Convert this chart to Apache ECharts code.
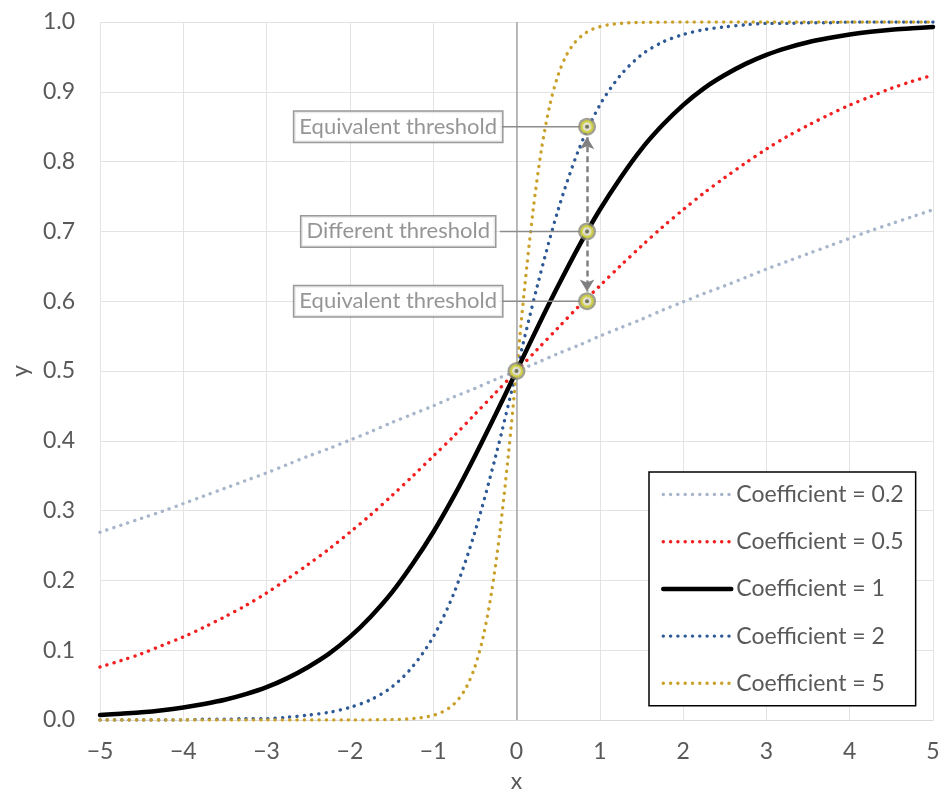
<!DOCTYPE html>
<html><head><meta charset="utf-8">
<script src="https://cdn.jsdelivr.net/npm/echarts@6/dist/echarts.min.js"></script>
<style>html,body{margin:0;padding:0;background:#fff;overflow:hidden}#c{width:944px;height:794px}</style>
</head><body><div id="c"></div>
<script>
const xTicks = [-5,-4,-3,-2,-1,0,1,2,3,4,5];
const xs = [-5,-4.75,-4.5,-4.25,-4,-3.75,-3.5,-3.25,-3,-2.75,-2.5,-2.25,-2,-1.75,-1.5,-1.25,-1,-0.75,-0.5,-0.25,0,0.25,0.5,0.75,1,1.25,1.5,1.75,2,2.25,2.5,2.75,3,3.25,3.5,3.75,4,4.25,4.5,4.75,5];
const yCoef02 = [0.269,0.279,0.289,0.299,0.310,0.321,0.332,0.343,0.354,0.366,0.378,0.389,0.401,0.413,0.426,0.438,0.450,0.463,0.475,0.488,0.500,0.512,0.525,0.537,0.550,0.562,0.574,0.587,0.599,0.611,0.622,0.634,0.646,0.657,0.668,0.679,0.690,0.701,0.711,0.721,0.731];
const yCoef05 = [0.076,0.085,0.095,0.107,0.119,0.133,0.148,0.164,0.182,0.202,0.223,0.245,0.269,0.294,0.321,0.349,0.378,0.407,0.438,0.469,0.500,0.531,0.562,0.593,0.622,0.651,0.679,0.706,0.731,0.755,0.777,0.798,0.818,0.836,0.852,0.867,0.881,0.893,0.905,0.915,0.924];
const yCoef1 = [0.007,0.009,0.011,0.014,0.018,0.023,0.029,0.037,0.047,0.060,0.076,0.095,0.119,0.148,0.182,0.223,0.269,0.321,0.378,0.438,0.500,0.562,0.622,0.679,0.731,0.777,0.818,0.852,0.881,0.905,0.924,0.940,0.953,0.963,0.971,0.977,0.982,0.986,0.989,0.991,0.993];
const yCoef2 = [0.000,0.000,0.000,0.000,0.000,0.001,0.001,0.002,0.002,0.004,0.007,0.011,0.018,0.029,0.047,0.076,0.119,0.182,0.269,0.378,0.500,0.622,0.731,0.818,0.881,0.924,0.953,0.971,0.982,0.989,0.993,0.996,0.998,0.998,0.999,0.999,1.000,1.000,1.000,1.000,1.000];
const xs5 = [-5,-4,-3,-2,-1.5,-1.4,-1.3,-1.2,-1.1,-1.0,-0.9,-0.8,-0.7,-0.6,-0.5,-0.4,-0.3,-0.2,-0.1,0,0.1,0.2,0.3,0.4,0.5,0.6,0.7,0.8,0.9,1.0,1.1,1.2,1.3,1.4,1.5,2,3,4,5];
const yCoef5 = [0,0,0,0,0.0006,0.0009,0.0015,0.0025,0.0041,0.0067,0.0110,0.0180,0.0293,0.0474,0.0759,0.1192,0.1824,0.2689,0.3775,0.5,0.6225,0.7311,0.8176,0.8808,0.9241,0.9526,0.9707,0.9820,0.9890,0.9933,0.9959,0.9975,0.9985,0.9991,0.9994,1,1,1,1];
const seriesNames = ['Coefficient = 0.2','Coefficient = 0.5','Coefficient = 1','Coefficient = 2','Coefficient = 5'];

// annotation points
const markerX = [0, 0.847, 0.847, 0.847];
const markerY = [0.5, 0.85, 0.7, 0.6];
const calloutText = ['Equivalent threshold','Different threshold','Equivalent threshold'];
const calloutX = -1.42;
const calloutY = [0.85, 0.7, 0.6];
const leaderStartX = -0.2;
const arrowFromY = [0.713, 0.687];
const arrowToY = [0.835, 0.614];

const FONT = 'Lato';
const TXT = '#595959';
const pairs = (x, y) => x.map((v, i) => [v, y[i]]);
const dotted = (color, w) => ({color, width: w, type: [0.1, 7.2], cap: 'round'});

const curves = [
  {name: seriesNames[0], data: pairs(xs, yCoef02), lineStyle: dotted('#a7b6cb', 3.4), z: 4},
  {name: seriesNames[1], data: pairs(xs, yCoef05), lineStyle: dotted('#f31f1f', 3.4), z: 4},
  {name: seriesNames[2], data: pairs(xs, yCoef1), lineStyle: {color: '#000', width: 4.5, type: 'solid', cap: 'round'}, z: 5},
  {name: seriesNames[3], data: pairs(xs, yCoef2), lineStyle: dotted('#2d5997', 3.4), z: 4},
  {name: seriesNames[4], data: pairs(xs5, yCoef5), lineStyle: dotted('#c9a12a', 3.4), z: 4}
].map(s => Object.assign({type: 'line', smooth: 0.3, showSymbol: false, symbol: 'none',
  itemStyle: {color: s.lineStyle.color}, animation: false}, s));

const leaders = calloutY.map((y, i) => ({
  type: 'line', name: 'leader' + i, data: [[leaderStartX, y], [markerX[i + 1], y]],
  showSymbol: false, symbol: 'none', lineStyle: {color: '#8c8c8c', width: 1.5}, z: 6, animation: false
}));

const option = {
  animation: false,
  backgroundColor: '#fff',
  textStyle: {fontFamily: FONT},
  grid: {left: 100, right: 11, top: 22, bottom: 74, containLabel: false, outerBoundsMode: 'none'},
  xAxis: {
    type: 'value', min: -5, max: 5, interval: 1,
    name: 'x', nameLocation: 'middle', nameGap: 50,
    nameTextStyle: {fontFamily: FONT, fontSize: 23, color: TXT},
    axisLine: {show: true, lineStyle: {color: '#d9d9d9', width: 1}},
    axisTick: {show: false},
    axisLabel: {fontFamily: FONT, fontSize: 23, color: TXT, margin: 20,
      formatter: v => (v < 0 ? '\u2212' + Math.abs(v) : String(v))},
    splitLine: {show: true, lineStyle: {color: '#e3e3e3', width: 1}}
  },
  yAxis: {
    type: 'value', min: 0, max: 1, interval: 0.1,
    name: 'y', nameLocation: 'middle', nameGap: 67, nameRotate: 90,
    nameTextStyle: {fontFamily: FONT, fontSize: 23, color: TXT},
    axisLine: {show: false}, axisTick: {show: false},
    axisLabel: {fontFamily: FONT, fontSize: 23, color: TXT, margin: 25, formatter: v => v.toFixed(1)},
    splitLine: {show: true, lineStyle: {color: '#e3e3e3', width: 1}}
  },
  legend: {
    data: seriesNames, orient: 'vertical', left: 649, top: 472,
    padding: [11, 12, 11, 12], itemGap: 24.2, itemWidth: 68, itemHeight: 20,
    backgroundColor: '#fff', borderColor: '#000', borderWidth: 1.5,
    itemStyle: {opacity: 0},
    lineStyle: {width: 'inherit'},
    textStyle: {fontFamily: FONT, fontSize: 23, color: TXT, lineHeight: 20},
    selectedMode: false
  },
  series: [
    {type: 'line', name: 'zeroAxis', data: [], z: 2, silent: true,
     markLine: {silent: true, symbol: ['none', 'none'], label: {show: false},
       lineStyle: {color: '#a6a6a6', width: 1.5, type: 'solid'}, data: [{xAxis: 0}]}},
    ...curves,
    ...leaders,
    {type: 'line', name: 'arrows', data: [], z: 7, silent: true,
     markLine: {silent: true, symbol: ['none', 'arrow'], symbolSize: [11, 12], label: {show: false},
       lineStyle: {color: '#808080', width: 2.5, type: [6, 4]},
       data: arrowFromY.map((y, i) => [{coord: [markerX[1], y]}, {coord: [markerX[1], arrowToY[i]]}])}},
    {type: 'scatter', name: 'markerOuter', data: pairs(markerX, markerY), symbol: 'circle', symbolSize: 18,
     itemStyle: {color: '#8a8a78'}, z: 8, silent: true},
    {type: 'scatter', name: 'markerRing', data: pairs(markerX, markerY), symbol: 'circle', symbolSize: 11,
     itemStyle: {color: '#f4f4e6', borderColor: '#d2d232', borderWidth: 2.5}, z: 9, silent: true},
    {type: 'scatter', name: 'markerCore', data: pairs(markerX, markerY), symbol: 'circle', symbolSize: 4,
     itemStyle: {color: '#5a5a40'}, z: 10, silent: true},
    {type: 'scatter', name: 'callouts', data: calloutY.map(y => [calloutX, y]), symbolSize: 1,
     itemStyle: {color: 'rgba(0,0,0,0)'}, z: 11, silent: true,
     label: {show: true, position: 'inside', formatter: p => calloutText[p.dataIndex],
       fontFamily: FONT, fontSize: 22, color: '#7a7a7a', backgroundColor: '#fff',
       borderColor: '#808080', borderWidth: 1.5, padding: [5, 5, 3, 5]}}
  ]
};
const chart = echarts.init(document.getElementById('c'), null, {renderer: 'canvas'});
chart.setOption(option);
</script></body></html>
